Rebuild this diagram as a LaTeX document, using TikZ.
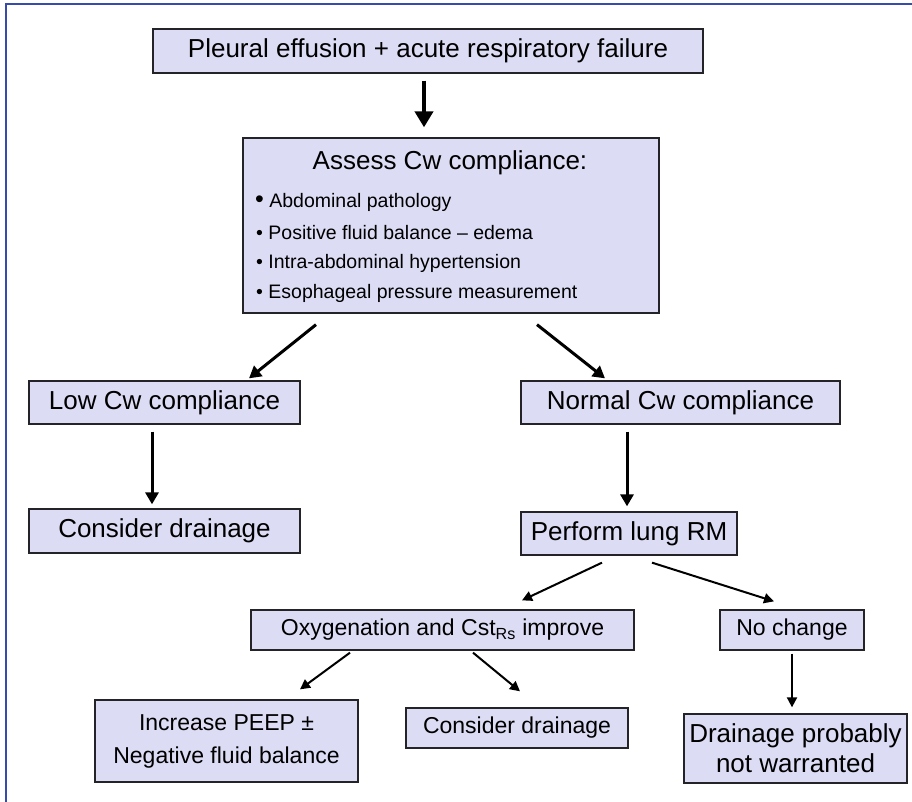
\documentclass[tikz,border=0pt]{standalone}
\usepackage{fontspec}
\setmainfont{Liberation Sans}
\usetikzlibrary{arrows.meta}

\definecolor{boxfill}{RGB}{220,220,245}
\definecolor{boxline}{RGB}{35,35,40}
\definecolor{frameblue}{RGB}{55,75,170}

\begin{document}
\begin{tikzpicture}[x=1pt,y=-1pt,
  box/.style={draw=boxline,line width=1.3pt,fill=boxfill,inner sep=0pt,align=center},
  bigarrow/.style={line width=4.5pt,-{Triangle[length=16pt,width=18pt]}},
  midarrow/.style={line width=3pt,-{Triangle[length=12pt,width=13pt]}},
  smallarrow/.style={line width=2pt,-{Triangle[length=10pt,width=10pt]}}]
\newcommand{\bigfont}{\fontsize{26}{30}\selectfont}
\newcommand{\midfont}{\fontsize{23}{33}\selectfont}
\newcommand{\itemfont}{\fontsize{19.5}{24}\selectfont}
\useasboundingbox (0,0) rectangle (912,802);
%Frame on the left and on top
\coordinate (frameBL) at (6,802);
\coordinate (frameTL) at (6,4);
\coordinate (frameTR) at (912,4);
\draw[frameblue,line width=2.5pt] (frameBL) -- (frameTL) -- (frameTR);
%Top box
\coordinate (cTop) at (428,51);
\node[box,font=\bigfont,minimum width=550,minimum height=44] (top) at (cTop) {Pleural effusion + acute respiratory failure};
%Assessment box with the list
\coordinate (cAssess) at (451,225.5);
\node[box,minimum width=416,minimum height=175] (assess) at (cAssess) {};
\node[font=\bigfont] (assessTitle) at (450,163) {Assess Cw compliance:};
\node[anchor=west,inner sep=0pt,font=\itemfont] (item1) at (255,202) {{\fontsize{25}{25}\selectfont •} Abdominal pathology};
\node[anchor=west,inner sep=0pt,font=\itemfont] (item2) at (256,233) {• Positive fluid balance – edema};
\node[anchor=west,inner sep=0pt,font=\itemfont] (item3) at (256,263) {• Intra-abdominal hypertension};
\node[anchor=west,inner sep=0pt,font=\itemfont] (item4) at (256,293) {• Esophageal pressure measurement};
%Second row
\coordinate (cLow) at (164.5,402.5);
\coordinate (cNormal) at (680.5,402.5);
\node[box,font=\bigfont,minimum width=271,minimum height=43] (low) at (cLow) {Low Cw compliance};
\node[box,font=\bigfont,minimum width=319,minimum height=43] (normal) at (cNormal) {Normal Cw compliance};
%Third row
\coordinate (cDrainL) at (164.5,531);
\coordinate (cPerform) at (629,533.5);
\node[box,font=\bigfont,minimum width=271,minimum height=44] (drainL) at (cDrainL) {Consider drainage};
\node[box,font=\bigfont,minimum width=216,minimum height=43] (perform) at (cPerform) {Perform lung RM};
%Fourth row
\coordinate (cOxy) at (442.5,630);
\coordinate (cNoChange) at (792,630);
\node[box,font=\midfont,minimum width=383,minimum height=40] (oxy) at (cOxy) {Oxygenation and Cst\textsubscript{Rs} improve};
\node[box,font=\midfont,minimum width=144,minimum height=40] (nochange) at (cNoChange) {No change};
%Bottom row
\coordinate (cIncrease) at (226.5,741);
\coordinate (cDrainC) at (517,728);
\coordinate (cWarrant) at (795.5,748.5);
\node[box,font=\midfont,minimum width=263,minimum height=82] (increase) at (cIncrease) {Increase PEEP ±\\Negative fluid balance};
\node[box,font=\midfont,minimum width=222,minimum height=40] (drainC) at (cDrainC) {Consider drainage};
\node[box,font=\bigfont,minimum width=223,minimum height=69] (warrant) at (cWarrant) {Drainage probably\\not warranted};
%Arrows
\draw[bigarrow] ([xshift=-4pt,yshift=-7pt]top.south) -- ([xshift=-27pt,yshift=10pt]assess.north);
\draw[midarrow] ([xshift=-135pt,yshift=-11pt]assess.south) -- ([xshift=84.5pt,yshift=2pt]low.north);
\draw[midarrow] ([xshift=86pt,yshift=-11pt]assess.south) -- ([xshift=-75.5pt,yshift=2pt]normal.north);
\draw[midarrow] ([xshift=-12.5pt,yshift=-7pt]low.south) -- ([xshift=-12.5pt,yshift=4pt]drainL.north);
\draw[midarrow] ([xshift=-53.5pt,yshift=-7pt]normal.south) -- ([xshift=-2pt,yshift=5pt]perform.north);
\draw[smallarrow] ([xshift=-27pt,yshift=-7pt]perform.south) -- ([xshift=79.5pt,yshift=9pt]oxy.north);
\draw[smallarrow] ([xshift=23pt,yshift=-7pt]perform.south) -- ([xshift=-18pt,yshift=8pt]nochange.north);
\draw[smallarrow] ([xshift=-92.5pt,yshift=-2pt]oxy.south) -- ([xshift=73.5pt,yshift=10pt]increase.north);
\draw[smallarrow] ([xshift=30.5pt,yshift=-2pt]oxy.south) -- ([xshift=3pt,yshift=16pt]drainC.north);
\draw[smallarrow] ([yshift=-3pt]nochange.south) -- ([xshift=-3.5pt,yshift=6pt]warrant.north);
\end{tikzpicture}
\end{document}
